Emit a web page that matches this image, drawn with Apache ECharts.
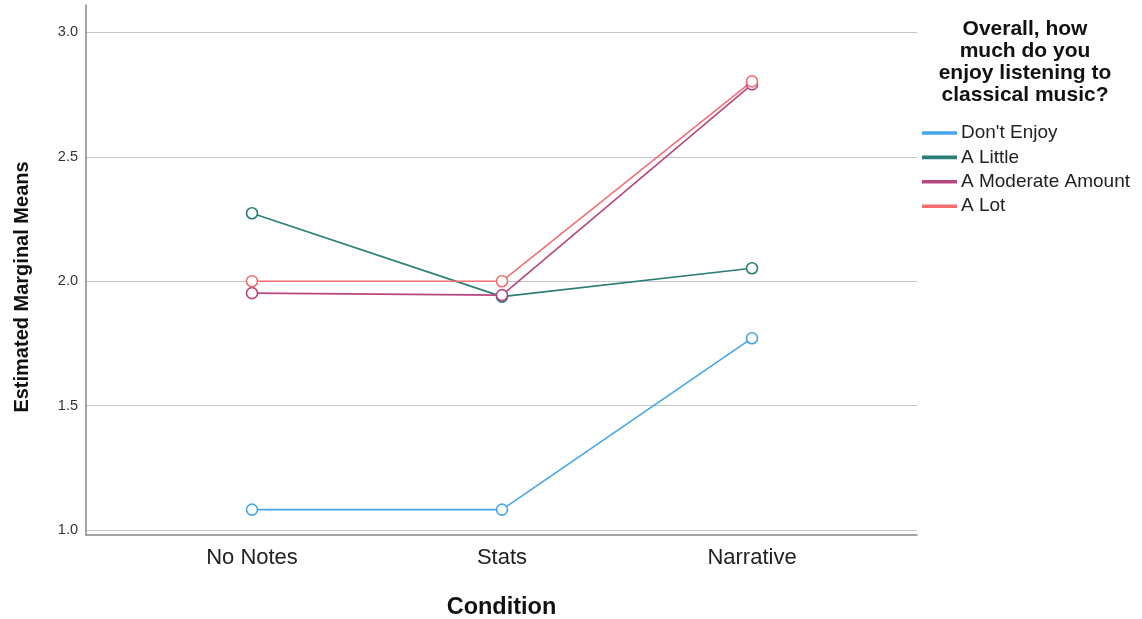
<!DOCTYPE html>
<html><head><meta charset="utf-8">
<script src="https://cdn.jsdelivr.net/npm/echarts@6/dist/echarts.min.js"></script>
<style>html,body{margin:0;padding:0;background:#fff}#c{width:1142px;height:619px}</style>
</head><body><div id="c"></div>
<script>
const categories = ['No Notes', 'Stats', 'Narrative'];
const seriesNames = ["Don't Enjoy", 'A Little', 'A Moderate Amount', 'A Lot'];
const dontEnjoy = [1.082, 1.082, 1.771];
const aLittle = [2.273, 1.938, 2.052];
const aModerate = [1.952, 1.944, 2.791];
const aLot = [2.0, 2.0, 2.803];
const yTicks = [1.0, 1.5, 2.0, 2.5, 3.0];
const colors = ['#45a6ea', '#2b7d78', '#b5467f', '#f46e72'];

const values = [dontEnjoy, aLittle, aModerate, aLot];
const chart = echarts.init(document.getElementById('c'));
chart.setOption({
  animation: false,
  color: colors,
  title: {
    text: 'Overall, how\nmuch do you\nenjoy listening to\nclassical music?',
    left: 1025, top: 18, textAlign: 'center', padding: 0,
    textStyle: {fontFamily: 'Liberation Sans', fontSize: 21, fontWeight: 'bold', color: '#111', lineHeight: 22, letterSpacing: 0.7}
  },
  legend: {
    orient: 'vertical', left: 922, top: 123.5, padding: 0, icon: 'rect', itemWidth: 33, itemHeight: 1.6, itemGap: 5.4,
    data: seriesNames,
    textStyle: {fontFamily: 'Liberation Sans', fontSize: 19, color: '#222', lineHeight: 19}
  },
  grid: {left: 86, right: 225, top: 5, bottom: 84, outerBoundsMode: 'none', containLabel: false},
  xAxis: {
    type: 'value', min: -0.664, max: 2.66,
    name: 'Condition', nameLocation: 'middle', nameGap: 61,
    nameTextStyle: {fontFamily: 'Liberation Sans', fontSize: 23.5, fontWeight: 'bold', color: '#111'},
    axisLine: {onZero: false, lineStyle: {color: '#888', width: 1.5}},
    axisTick: {show: false},
    splitLine: {show: false},
    axisLabel: {customValues: [0, 1, 2], formatter: v => categories[Math.round(v)] || '',
      fontFamily: 'Liberation Sans', fontSize: 22, color: '#222', margin: 12}
  },
  yAxis: {
    type: 'value', min: 0.98, max: 3.11,
    name: 'Estimated Marginal Means', nameLocation: 'middle', nameGap: 54,
    nameTextStyle: {fontFamily: 'Liberation Sans', fontSize: 20, fontWeight: 'bold', color: '#111', padding: [0, 34, 0, 0]},
    axisLine: {show: true, onZero: false, lineStyle: {color: '#888', width: 1.5}},
    axisTick: {show: false, customValues: yTicks},
    splitLine: {show: true, lineStyle: {color: '#c4c4c4', width: 1.2}},
    axisLabel: {customValues: yTicks, formatter: v => v.toFixed(1),
      fontFamily: 'Liberation Sans', fontSize: 14.5, color: '#333', margin: 8}
  },
  series: seriesNames.map((n, i) => ({
    name: n, type: 'line',
    data: values[i].map((v, j) => [j, v]),
    symbol: 'circle', symbolSize: 11,
    itemStyle: {color: '#fff', borderColor: colors[i], borderWidth: 1.6},
    lineStyle: {color: colors[i], width: 1.6},
    emphasis: {disabled: true}
  }))
});
</script></body></html>
